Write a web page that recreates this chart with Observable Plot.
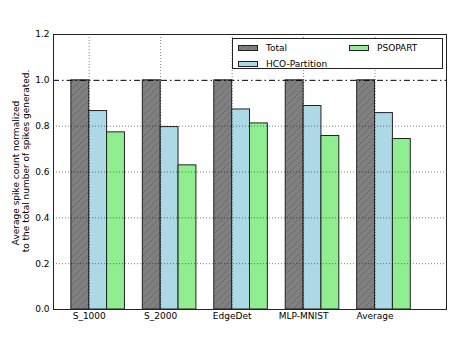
<!DOCTYPE html>
<html>
<head>
<meta charset="utf-8">
<script src="https://cdn.jsdelivr.net/npm/d3@7"></script>
<script src="https://cdn.jsdelivr.net/npm/@observablehq/plot@0.6"></script>
<style>
  html, body { margin: 0; padding: 0; background: white; }
  #wrap { position: relative; width: 457px; height: 343px; font-family: "DejaVu Sans", sans-serif; }
  #legend { position: absolute; left: 232px; top: 38px; width: 209px; height: 29px; border: 1px solid #222; background: white; font-size: 9px; }
  .item { position: absolute; display: flex; align-items: center; white-space: nowrap; }
  .item svg { display: block; margin-right: 8px; }
</style>
</head>
<body>
<div id="wrap"></div>
<script>
const categories = ["S_1000", "S_2000", "EdgeDet", "MLP-MNIST", "Average"];
const seriesNames = ["Total", "HCO-Partition", "PSOPART"];
const totalValues = [1.0, 1.0, 1.0, 1.0, 1.0];
const hcoValues = [0.866, 0.796, 0.873, 0.888, 0.857];
const psopartValues = [0.773, 0.629, 0.812, 0.757, 0.744];
const yTicks = [0.0, 0.2, 0.4, 0.6, 0.8, 1.0, 1.2];
const referenceLine = [1.0];

const seriesValues = [totalValues, hcoValues, psopartValues];
const barW = 0.25;
const fills = ["url(#hatchTotal)", "#add8e6", "#90ee90"];

const rows = categories.flatMap((c, i) =>
  seriesNames.map((s, k) => ({
    category: c, series: s, value: seriesValues[k][i],
    x1: i + k * barW, x2: i + (k + 1) * barW
  }))
);
const xTickPos = categories.map((c, i) => i + barW);

const chart = Plot.plot({
  width: 457, height: 343,
  marginLeft: 53, marginRight: 11, marginTop: 34, marginBottom: 34,
  style: { fontFamily: "DejaVu Sans", fontSize: "9px", color: "black", background: "white", overflow: "visible" },
  x: { domain: [-0.25, 5.25], label: null },
  y: { domain: [0, 1.2], label: null },
  color: { domain: seriesNames, range: fills },
  marks: [
    Plot.rect(rows, { x1: "x1", x2: "x2", y1: 0, y2: "value", fill: "series", stroke: "#222", strokeWidth: 1 }),
    Plot.gridY(yTicks.filter(v => v > 0 && v < 1.2 && v !== 1), { stroke: "#000", strokeOpacity: 0.5, strokeDasharray: "1,2", strokeWidth: 1 }),
    Plot.gridX(xTickPos, { stroke: "#000", strokeOpacity: 0.5, strokeDasharray: "1,2", strokeWidth: 1 }),
    Plot.ruleY(referenceLine, { stroke: "#000", strokeDasharray: "6,3,1.5,3", strokeWidth: 1 }),
    Plot.frame({ stroke: "#222", strokeWidth: 1 }),
    Plot.axisY(yTicks, { tickSize: 0, tickPadding: 4, tickFormat: d3.format(".1f"), label: null }),
    Plot.axisX(xTickPos, { tickSize: 0, tickPadding: 3, tickFormat: (d) => categories[Math.round(d - barW)], label: null }),
    Plot.text(["Average spike count normalized"], { frameAnchor: "left", rotate: -90, dx: -37.5, dy: 1, fontSize: 9, fill: "black", textAnchor: "middle" }),
    Plot.text(["to the total number of spikes generated."], { frameAnchor: "left", rotate: -90, dx: -27.5, dy: -11, fontSize: 9, fill: "black", textAnchor: "middle" })
  ]
});

// hatch pattern definition
const ns = "http://www.w3.org/2000/svg";
const defs = document.createElementNS(ns, "defs");
defs.innerHTML = `<pattern id="hatchTotal" patternUnits="userSpaceOnUse" width="7" height="7">
  <rect width="7" height="7" fill="#808080"/>
  <path d="M-1,1 L1,-1 M0,7 L7,0 M6,8 L8,6" stroke="#5c5c5c" stroke-width="0.6"/>
</pattern>`;
chart.insertBefore(defs, chart.firstChild);

const wrap = document.getElementById("wrap");
wrap.appendChild(chart);

// legend
const legend = document.createElement("div");
legend.id = "legend";
const legendPos = [[5, 4], [5, 20], [116, 4]];
seriesNames.forEach((s, k) => {
  const item = document.createElement("div");
  item.className = "item";
  item.style.left = legendPos[k][0] + "px";
  item.style.top = legendPos[k][1] + "px";
  item.innerHTML = `<svg width="20" height="6"><rect x="0.5" y="0.5" width="19" height="5" fill="${fills[k]}" stroke="#222"/></svg><span>${s}</span>`;
  legend.appendChild(item);
});
wrap.appendChild(legend);
</script>
</body>
</html>
